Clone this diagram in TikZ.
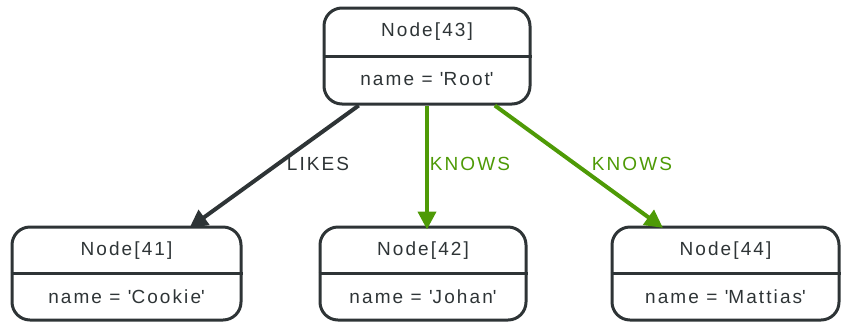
\documentclass[tikz,border=0pt]{standalone}
\usepackage{fontspec}
\setmainfont{Liberation Sans}[LetterSpace=11]
\usetikzlibrary{arrows.meta}
\definecolor{dk}{HTML}{2E3436}
\definecolor{gr}{HTML}{4E9A06}
\newcommand{\q}{\textquotesingle}
\tikzset{
  box/.style={draw=dk, line width=3pt, rounded corners=18pt, minimum height=96pt, inner sep=0pt},
  txt/.style={text=dk, font=\fontsize{19}{21}\selectfont, inner sep=0pt, anchor=base},
  edge/.style={line width=4pt, shorten >=-4pt, -{Triangle[width=18pt,length=18pt]}},
  lab/.style={font=\fontsize{19}{21}\selectfont, inner sep=0pt, anchor=base}
}
\begin{document}
\begin{tikzpicture}[x=1pt,y=-1pt]
\useasboundingbox (0,0) rectangle (842,322);
% nodes
\node[box, minimum width=206pt] (n43) at (427,56) {};
\node[box, minimum width=229pt, minimum height=93pt] (n41) at (126.5,273.5) {};
\node[box, minimum width=206pt, minimum height=93pt] (n42) at (423,273.5) {};
\node[box, minimum width=227pt, minimum height=93pt] (n44) at (725.5,273.5) {};
\foreach \n in {n43,n41,n42,n44} \draw[draw=dk, line width=3pt] (\n.west) -- (\n.east);
\node[txt] (t43) at (427,36) {Node[43]};
\node[txt] (p43) at (427,85) {name = \q Root\q};
\node[txt] (t41) at (126.5,255) {Node[41]};
\node[txt] (p41) at (126.5,303) {name = \q Cookie\q};
\node[txt] (t42) at (423,255) {Node[42]};
\node[txt] (p42) at (423,303) {name = \q Johan\q};
\node[txt] (t44) at (725.5,255) {Node[44]};
\node[txt] (p44) at (725.5,303) {name = \q Mattias\q};
% edges
\draw[edge, draw=dk, fill=dk] (n43) -- (n41);
\draw[edge, draw=gr, fill=gr] (n43.south) -- (n43.south |- n42.north);
\draw[edge, draw=gr, fill=gr] (n43) -- (n44);
\node[lab, text=dk] (l1) at (318,170) {LIKES};
\node[lab, text=gr] (l2) at (470,170) {KNOWS};
\node[lab, text=gr] (l3) at (632,170) {KNOWS};
\end{tikzpicture}
\end{document}
